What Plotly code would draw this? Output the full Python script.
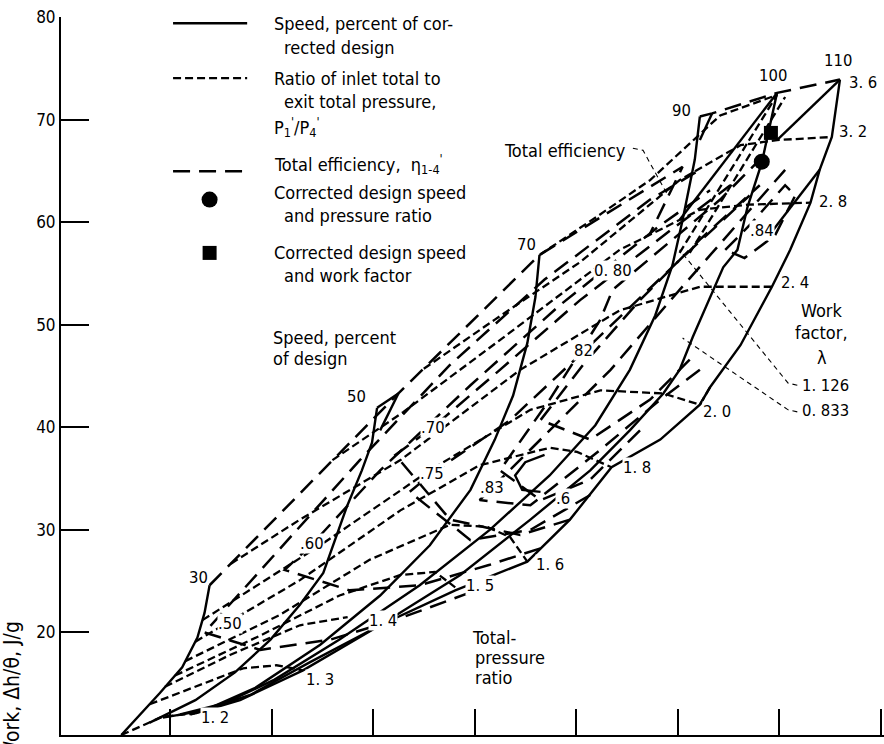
import plotly.graph_objects as go

X_TICKS = [1, 2, 3, 4, 5, 6, 7, 8]
Y_TICKS = [10, 20, 30, 40, 50, 60, 70, 80]

# ---- speed lines, percent of corrected design (solid)
spd30 = [(1.39,24.6),(1.34,21.9),(1.27,19.5),(1.12,16.6),(0.90,14.1),(0.52,10.0)]
spd50 = [(3.04,41.9),(2.99,38.5),(2.89,35.8),(2.74,32.2),(2.51,25.8),(2.28,22.7),(1.99,19.3),(1.64,16.1),(1.25,13.4),(0.80,11.2)]
spd70 = [(4.64,56.8),(4.60,52.7),(4.52,48.2),(4.38,43.1),(4.20,38.8),(3.96,33.9),(3.56,28.5),(3.07,23.6),(2.48,18.8),(1.84,14.6),(1.34,12.4),(0.93,11.7)]
spd90 = [(6.22,70.3),(6.17,66.1),(6.05,60.2),(5.95,55.8),(5.78,50.9),(5.53,45.6),(5.19,40.2),(4.74,35.3),(4.15,30.0),(3.46,24.6),(2.67,19.3),(2.03,15.4),(1.54,13.1),(1.10,12.0)]
spd100 = [(6.98,72.6),(6.83,65.8),(6.69,61.5),(6.59,57.3),(6.45,55.6),(6.32,52.7),(6.15,48.8),(6.02,45.6),(5.86,43.3),(5.53,39.7),(5.14,35.8),(4.55,31.0),(3.86,25.6),(3.07,20.7),(2.38,17.1),(1.79,13.9),(1.20,12.0)]
spd110 = [(7.60,73.9),(7.52,68.3),(7.40,65.1),(7.31,61.9),(7.11,57.3),(6.93,53.7),(6.62,48.0),(6.32,43.9),(6.22,42.2),(5.83,38.8),(5.35,36.1),(4.94,31.0),(4.52,26.9),(3.81,24.1),(3.07,20.7),(2.31,16.3),(1.69,13.4),(1.25,12.1)]
speed_names = ["30", "50", "70", "90", "100", "110"]
speed_label_pos = [(1.28,25.4),(2.84,43.0),(4.51,57.8),(6.04,70.9),(6.94,74.3),(7.58,75.8)]
# short solid branches seen near the speed-line tops
spd_branch_a = [(6.98,72.6),(6.02,60.2)]
spd_branch_b = [(7.60,73.9),(6.98,68.0)]
spd_branch_c = [(7.40,65.1),(6.94,59.2)]
spd_branch_90 = [(6.34,70.6),(6.22,68.0)]
spd_branch_50 = [(3.04,41.9),(3.25,43.3),(3.07,39.7)]
spd_hook = [(4.69,37.3),(4.50,36.6),(4.40,35.3),(4.47,33.9),(4.65,33.7)]

# ---- total-pressure ratio lines (short dash)
pr12 = [(0.52,10.0),(0.93,11.8),(1.25,12.1)]
pr13 = [(0.80,13.0),(1.30,14.9),(1.72,16.5),(2.05,16.8),(2.31,16.3)]
pr14 = [(0.95,14.7),(1.59,17.8),(2.28,20.7),(2.75,21.5)]
pr15 = [(1.05,15.8),(1.89,19.7),(2.67,23.6),(3.27,25.6),(3.61,25.9),(3.81,24.4)]
pr16 = [(1.15,17.2),(2.08,21.7),(2.97,27.1),(3.76,30.5),(4.12,30.3),(4.35,29.3),(4.52,26.9)]
pr18 = [(1.25,19.1),(2.28,25.1),(3.27,31.9),(4.05,36.3),(4.74,38.0),(5.01,37.6),(5.35,36.1)]
pr20 = [(1.32,21.2),(2.48,28.5),(3.56,35.8),(4.55,41.7),(5.24,43.6),(5.86,43.3),(6.22,42.2),(6.32,43.9)]
pr24 = [(1.60,26.7),(2.28,31.0),(3.27,36.8),(4.45,45.6),(5.43,51.4),(6.22,53.7),(6.93,53.7)]
pr28 = [(2.60,36.8),(3.30,41.5),(4.25,48.5),(5.43,57.3),(6.22,61.2),(6.69,61.7),(7.31,61.9)]
pr32 = [(3.50,45.7),(4.20,50.5),(5.04,56.1),(6.02,64.1),(6.62,67.5),(6.98,68.0),(7.52,68.3)]
pr36 = [(4.64,56.8),(5.20,60.5),(5.73,64.1),(6.42,70.4),(6.98,72.4)]
pr_pair_a = [(6.02,57.0),(6.98,72.4)]
pr_pair_b = [(6.12,57.0),(7.06,72.2)]
pr_names = ["1. 2", "1. 3", "1. 4", "1. 5", "1. 6", "1. 8", "2. 0", "2. 4", "2. 8", "3. 2", "3. 6"]
pr_label_pos = [(1.44,11.7),(2.48,15.4),(3.10,21.2),(4.05,24.6),(4.74,26.6),(5.60,36.1),(6.39,41.5),(7.16,54.1),(7.53,62.0),(7.73,68.8),(7.83,73.6)]

# ---- total efficiency contours (long dash)
eff_env = [(1.39,24.6),(3.25,43.3),(4.64,56.8),(6.05,65.4),(5.73,58.9)]
eff_top = [(6.22,70.3),(6.34,70.6),(6.98,72.6),(7.60,73.9)]
eff50 = [(3.96,23.9),(3.27,21.4),(2.58,19.3),(1.89,18.3),(1.34,20.0),(1.99,27.1),(2.87,36.8),(3.76,46.1),(4.69,54.4),(5.73,62.2),(6.22,65.1)]
eff60 = [(4.65,28.2),(4.15,26.6),(3.46,24.6),(2.77,24.1),(2.13,26.1),(2.40,28.6),(3.07,35.8),(3.96,44.1),(4.84,51.9),(5.83,59.7),(6.32,63.1)]
eff70 = [(4.94,31.0),(4.45,29.5),(3.76,31.0),(3.22,37.3),(3.59,40.0),(4.25,45.6),(5.04,52.4),(5.93,59.2),(6.52,63.6)]
eff75 = [(5.14,33.4),(4.55,30.0),(3.96,29.0),(3.36,33.7),(3.58,35.5),(4.35,40.7),(5.14,48.0),(6.02,56.3),(6.71,62.6)]
eff80 = [(5.63,39.7),(5.14,34.9),(4.65,32.9),(4.25,35.8),(4.74,42.7),(5.24,50.5),(5.36,53.4),(5.83,57.3),(6.42,62.2),(6.81,66.1)]
eff82 = [(6.12,46.6),(5.73,42.7),(5.14,38.8),(4.65,40.7),(5.07,46.1),(5.63,52.4),(6.22,58.3),(6.81,63.6)]
eff83 = [(6.22,45.6),(5.83,42.7),(5.24,37.8),(4.55,32.4),(4.05,32.9),(4.65,38.8),(5.34,45.6),(6.02,53.4),(6.62,60.2),(7.06,65.1)]
eff84 = [(6.47,57.3),(6.71,59.7),(7.06,63.6),(7.16,62.6),(6.96,58.7),(6.66,56.5),(6.47,57.3)]
eff_names = [".50", ".60", ".70", ".75", "0. 80", "82", ".83", ".84", ".6"]
eff_label_pos = [(1.59,20.9),(2.40,28.7),(3.59,40.0),(3.58,35.5),(5.36,55.3),(5.07,47.5),(4.17,34.1),(6.83,59.2),(4.87,33.1)]

# ---- leader lines
lead_eff = [(5.56,67.2),(5.66,67.0),(5.91,62.5)]
lead_l1126 = [(7.18,44.1),(7.09,44.3),(6.02,57.3)]
lead_l0833 = [(7.18,41.5),(7.09,41.7),(6.05,48.7)]

# ---- design points
design_pr_pt = (6.83, 65.9)
design_wf_pt = (6.92, 68.7)

NUM_FONT = dict(family="DejaVu Sans Condensed, DejaVu Sans, sans-serif", size=16.5, color="black")
TXT_FONT = dict(family="DejaVu Sans Condensed, DejaVu Sans, sans-serif", size=18, color="black")

fig = go.Figure()

def add_line(pts, dash, width=2.4):
    fig.add_trace(go.Scatter(x=[p[0] for p in pts], y=[p[1] for p in pts], mode="lines",
                             line=dict(color="black", width=width, dash=dash),
                             hoverinfo="skip", showlegend=False))

for ln in [spd30, spd50, spd70, spd90, spd100, spd110, spd_branch_a, spd_branch_b, spd_branch_c,
           spd_branch_90, spd_branch_50, spd_hook]:
    add_line(ln, "solid")
for ln in [pr12, pr13, pr14, pr15, pr16, pr18, pr20, pr24, pr28, pr32, pr36, pr_pair_a, pr_pair_b]:
    add_line(ln, "8px,4px", 2.3)
for ln in [eff_env, eff_top, eff50, eff60, eff70, eff75, eff80, eff82, eff83, eff84]:
    add_line(ln, "17px,9px", 2.5)
for ln in [lead_eff, lead_l1126, lead_l0833]:
    add_line(ln, "5px,4px", 1.1)

fig.add_trace(go.Scatter(x=[design_pr_pt[0]], y=[design_pr_pt[1]], mode="markers",
                         marker=dict(symbol="circle", size=16, color="black"), showlegend=False, hoverinfo="skip"))
fig.add_trace(go.Scatter(x=[design_wf_pt[0]], y=[design_wf_pt[1]], mode="markers",
                         marker=dict(symbol="square", size=14, color="black"), showlegend=False, hoverinfo="skip"))

# ---- legend (drawn inside plot)
leg_x0, leg_x1 = 1.03, 1.76
fig.add_shape(type="line", x0=leg_x0, x1=leg_x1, y0=79.4, y1=79.4, line=dict(color="black", width=2.5))
fig.add_shape(type="line", x0=leg_x0, x1=leg_x1, y0=74.05, y1=74.05, line=dict(color="black", width=2.3, dash="8px,4px"))
fig.add_shape(type="line", x0=leg_x0, x1=leg_x1, y0=64.97, y1=64.97, line=dict(color="black", width=2.5, dash="17px,9px"))
fig.add_trace(go.Scatter(x=[1.39], y=[62.2], mode="markers", marker=dict(symbol="circle", size=16, color="black"),
                         showlegend=False, hoverinfo="skip"))
fig.add_trace(go.Scatter(x=[1.39], y=[57.0], mode="markers", marker=dict(symbol="square", size=14, color="black"),
                         showlegend=False, hoverinfo="skip"))

legend_text = [
    (2.00, 79.4, "Speed, percent of cor-"),
    (2.10, 77.0, "rected design"),
    (2.00, 74.05, "Ratio of inlet total to"),
    (2.10, 71.8, "exit total pressure,"),
    (2.00, 69.3, "P<sub>1</sub><sup>'</sup>/P<sub>4</sub><sup>'</sup>"),
    (2.00, 65.7, "Total efficiency,  η<sub>1-4</sub><sup>'</sup>"),
    (2.00, 62.9, "Corrected design speed"),
    (2.10, 60.6, "and pressure ratio"),
    (2.00, 57.0, "Corrected design speed"),
    (2.10, 54.75, "and work factor"),
    (1.99, 48.8, "Speed, percent"),
    (1.99, 46.75, "of design"),
    (3.96, 19.55, "Total-"),
    (3.98, 17.6, "pressure"),
    (3.98, 15.65, "ratio"),
    (4.27, 67.0, "Total efficiency"),
]
for x, y, t in legend_text:
    fig.add_annotation(x=x, y=y, text=t, showarrow=False, xanchor="left", yanchor="middle", font=TXT_FONT)

for t, (x, y) in zip(["Work", "factor,", "λ"], [(7.42, 51.4), (7.42, 49.2), (7.42, 46.8)]):
    fig.add_annotation(x=x, y=y, text=t, showarrow=False, xanchor="center", yanchor="middle", font=TXT_FONT)
for t, (x, y) in zip(["1. 126", "0. 833"], [(7.21, 44.1), (7.21, 41.6)]):
    fig.add_annotation(x=x, y=y, text=t, showarrow=False, xanchor="left", yanchor="middle", font=NUM_FONT)

for t, (x, y) in zip(speed_names, speed_label_pos):
    fig.add_annotation(x=x, y=y, text=t, showarrow=False, font=NUM_FONT)
for t, (x, y) in zip(pr_names, pr_label_pos):
    fig.add_annotation(x=x, y=y, text=t, showarrow=False, font=NUM_FONT, bgcolor="white", borderpad=0)
for t, (x, y) in zip(eff_names, eff_label_pos):
    fig.add_annotation(x=x, y=y, text=t, showarrow=False, font=NUM_FONT, bgcolor="white", borderpad=0)

# y-axis title (partly cut off at bottom as in original)
fig.add_annotation(xref="paper", yref="paper", x=-0.0595, y=0.062, text="Work, Δh/θ, J/g", textangle=-90,
                   showarrow=False, xanchor="center", yanchor="middle",
                   font=dict(family="DejaVu Sans Condensed, DejaVu Sans, sans-serif", size=21, color="black"))

fig.update_xaxes(range=[-0.074, 8.034], showline=True, linecolor="black", linewidth=2,
                 ticks="inside", ticklen=26, tickwidth=2, tickcolor="black",
                 tickvals=X_TICKS, showticklabels=False, showgrid=False, zeroline=False, mirror=False)
fig.update_yaxes(range=[10, 80], showline=True, linecolor="black", linewidth=2,
                 ticks="inside", ticklen=28, tickwidth=2, tickcolor="black",
                 tickvals=Y_TICKS, tickfont=dict(family="DejaVu Sans Condensed, DejaVu Sans, sans-serif", size=17, color="black"),
                 showgrid=False, zeroline=False)

fig.update_layout(width=884, height=744, margin=dict(l=61, r=0, t=17, b=9),
                  paper_bgcolor="white", plot_bgcolor="white", showlegend=False)

fig.write_html("out.html")
